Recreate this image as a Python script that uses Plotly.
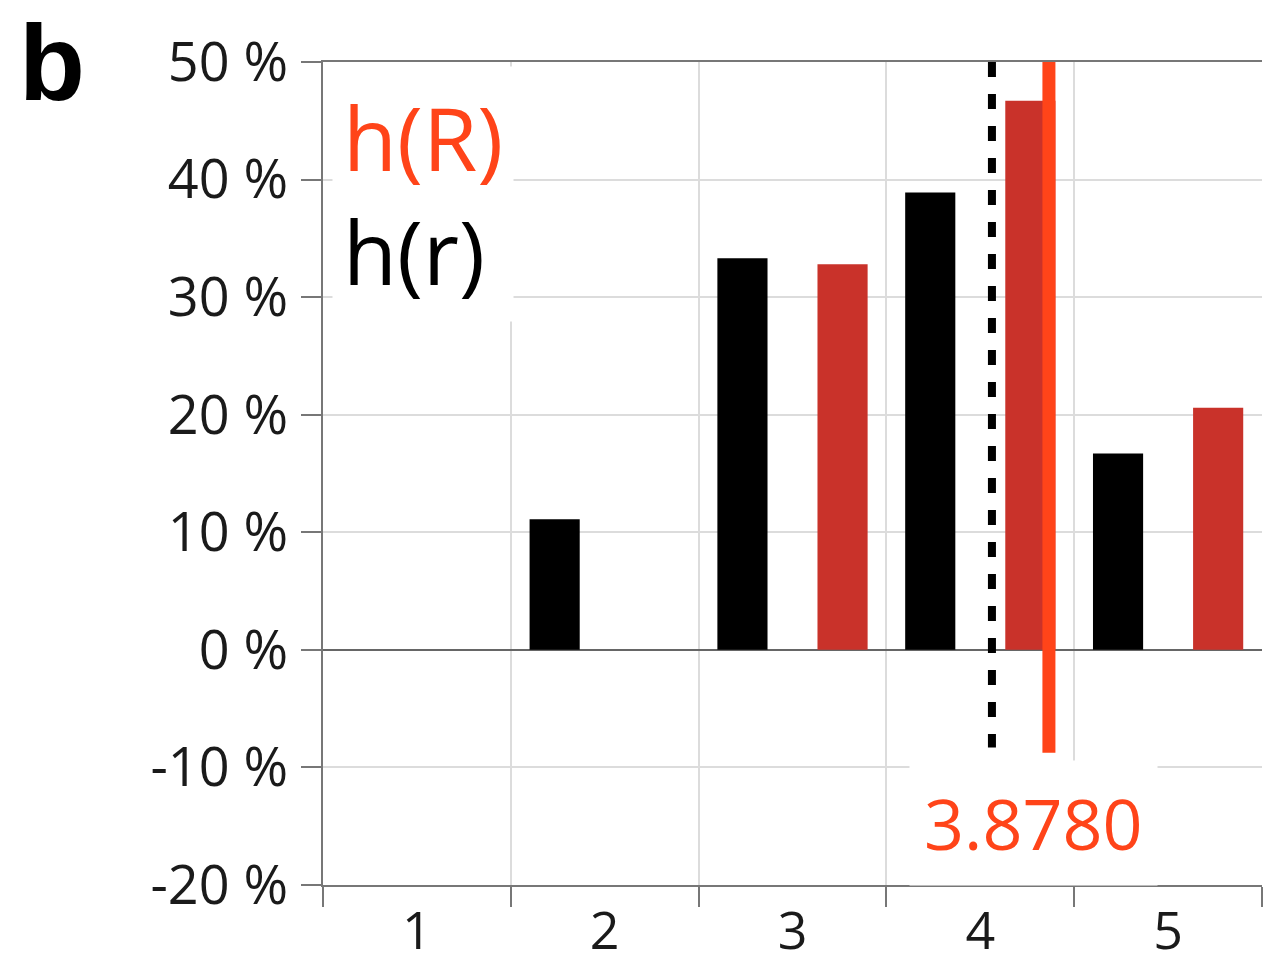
import plotly.graph_objects as go

# Share of respondents per rating, for the two distributions
categories = [1, 2, 3, 4, 5]
tick_labels = ["1", "2", "3", "4", "5"]
h_r = [0.0, 11.1, 33.3, 38.9, 16.7]      # h(r), black bars
h_R = [0.0, 0.0, 32.8, 46.7, 20.6]       # h(R), red bars

mean_r = 65 / 18                          # mean of h(r), dotted black line
mean_R = 3.8780                           # mean of h(R), solid red line
mean_label = "3.8780"

y_ticks = [-20, -10, 0, 10, 20, 30, 40, 50]
y_tick_labels = ["-20 %", "-10 %", "0 %", "10 %", "20 %", "30 %", "40 %", "50 %"]

RED_TEXT = "#FF4419"
RED_BAR = "#C9322A"
GRID = "#dcdcdc"
AXIS = "#777777"
FONT = "Open Sans"

W, H = 1263, 965
L, R, T, B = 323, 1, 62, 80
pw, ph = W - L - R, H - T - B


def px(xp):
    return (xp - L) / pw


def py(yp):
    return (H - B - yp) / ph


fig = go.Figure()

fig.add_trace(go.Bar(
    x=categories, y=h_r, width=0.267, offset=-0.4,
    marker=dict(color="black", line=dict(width=0)),
    showlegend=False,
))
fig.add_trace(go.Bar(
    x=categories, y=h_R, width=0.267, offset=0.133,
    marker=dict(color=RED_BAR, line=dict(width=0)),
    showlegend=False,
))

# mean markers drawn on an overlaid value axis
fig.add_trace(go.Scatter(
    x=[mean_r, mean_r], y=[50, -8.3], xaxis="x2", mode="lines",
    line=dict(color="black", width=8, dash="15px,17px"), showlegend=False,
))
fig.add_trace(go.Scatter(
    x=[mean_R, mean_R], y=[50, -8.75], xaxis="x2", mode="lines",
    line=dict(color=RED_TEXT, width=13), showlegend=False,
))

boundaries = [c - 0.5 for c in categories] + [categories[-1] + 0.5]

fig.update_layout(
    width=W, height=H,
    margin=dict(l=L, r=R, t=T, b=B, autoexpand=False),
    paper_bgcolor="white", plot_bgcolor="white",
    barmode="overlay",
    font=dict(family=FONT, color="#1a1a1a"),
    xaxis=dict(
        range=[0.5, 5.5], tickmode="array", tickvals=categories, ticktext=tick_labels,
        ticks="", showgrid=False, zeroline=False, automargin=False,
        tickfont=dict(size=52, family=FONT, color="#1a1a1a"),
        showline=True, linecolor=AXIS, linewidth=2, mirror=True,
        ticklabelstandoff=0,
        minor=dict(tickmode="array", tickvals=boundaries, ticks="outside", ticklen=20,
                   tickwidth=2, tickcolor=AXIS, showgrid=True, gridcolor=GRID, gridwidth=2),
    ),
    xaxis2=dict(range=[0.478, 4.876], overlaying="x", visible=False),
    yaxis=dict(
        range=[-20, 50], tickmode="array", tickvals=y_ticks, ticktext=y_tick_labels,
        ticks="outside", ticklen=20, tickwidth=2, tickcolor=AXIS,
        showgrid=True, gridcolor=GRID, gridwidth=2,
        zeroline=True, zerolinecolor="#666666", zerolinewidth=2,
        showline=True, linecolor=AXIS, linewidth=2, automargin=False,
        tickfont=dict(size=54, family=FONT, color="#1a1a1a"),
        ticklabelstandoff=2,
    ),
    annotations=[
        dict(text=f"<span style='color:{RED_TEXT}'>h(R)</span><br>h(r)",
             xref="paper", yref="paper", x=px(332), y=py(66),
             xanchor="left", yanchor="top", showarrow=False, align="left",
             font=dict(size=88, family=FONT, color="black"),
             bgcolor="white", borderpad=10),
        dict(text=mean_label, xref="paper", yref="paper", x=px(1033), y=py(823),
             xanchor="center", yanchor="middle", showarrow=False,
             font=dict(size=70, family=FONT, color=RED_TEXT),
             bgcolor="white", borderpad=14),
        dict(text="<b>b</b>", xref="paper", yref="paper", x=px(17), y=py(0),
             xanchor="left", yanchor="top", showarrow=False,
             font=dict(size=108, family="Liberation Sans", color="black")),
    ],
)

fig.write_html("out.html")
